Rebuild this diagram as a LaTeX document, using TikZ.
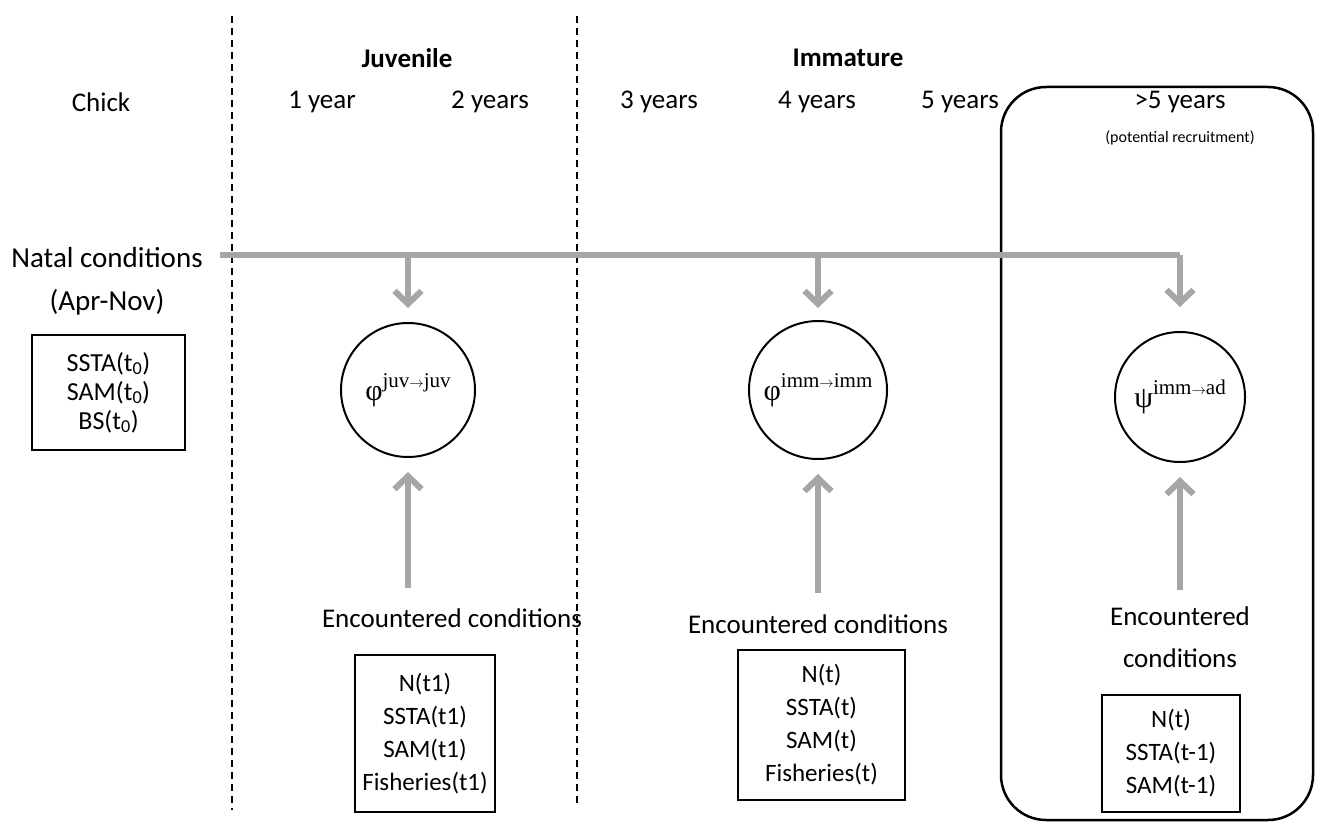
\documentclass[tikz,border=0pt]{standalone}
\usepackage[no-math]{fontspec}
\setmainfont{Carlito}
\newfontfamily\greekserif{Liberation Serif}
\usetikzlibrary{arrows.meta}
\definecolor{arrowgray}{HTML}{A6A6A6}
\newcommand{\stagelbl}[3]{{\greekserif\fontsize{30}{32}\selectfont #1}\raisebox{13pt}{\greekserif\fontsize{21}{22}\selectfont #2${\scriptstyle\rightarrow}$#3}}
\begin{document}
\begin{tikzpicture}[x=1pt,y=-1pt,
  every node/.style={font=\fontsize{27}{32}\selectfont, inner sep=0pt},
  title/.style={font=\fontsize{27}{32}\selectfont\bfseries},
  divider/.style={line width=1.5pt, dash pattern=on 7pt off 5pt},
  grayline/.style={draw=arrowgray, line width=6pt},
  grayarrow/.style={grayline, -{Straight Barb[length=13pt, width=27pt, line width=6pt]}},
  stage/.style={draw, circle, line width=2pt, minimum size=134pt},
  databox/.style={draw, line width=1.3pt, align=center}
]
\useasboundingbox (0,0) rectangle (1324,824);

% dividers
\coordinate (d1top) at (232,16);
\coordinate (d1bot) at (232,810);
\coordinate (d2top) at (577,16);
\coordinate (d2bot) at (577,805);
\draw[divider] (d1top) -- (d1bot);
\draw[divider] (d2top) -- (d2bot);

% adult frame
\node[draw, line width=2.5pt, rounded corners=45pt, minimum width=312pt, minimum height=733pt] (adultframe) at (1157,453.5) {};

% titles
\node[title] (juv) at (407,58) {Juvenile};
\node[title] (imm) at (848,58) {Immature};

% ages
\node (chick) at (101,102) {Chick};
\node (y1) at (322,102) {1 year};
\node (y2) at (490,102) {2 years};
\node (y3) at (659,102) {3 years};
\node (y4) at (817,102) {4 years};
\node (y5) at (960,102) {5 years};
\node (y6) at (1180,102) {>5 years};
\node[font=\fontsize{16}{18}\selectfont] (recruit) at (1180,138) {(potential recruitment)};

% natal
\node[font=\fontsize{29}{34}\selectfont] (natal) at (107,258) {Natal conditions};
\node[font=\fontsize{29}{34}\selectfont] (aprnov) at (107,302) {(Apr-Nov)};
\node[databox, minimum width=153pt, minimum height=115pt, font=\fontsize{26}{29}\selectfont] (natalbox) at (108.5,392.5) {SSTA(t\textsubscript{0})\\SAM(t\textsubscript{0})\\BS(t\textsubscript{0})};

% circles
\node[stage] (c1) at (408,390) {\stagelbl{φ}{juv}{juv}};
\node[stage, minimum size=138pt] (c2) at (818,390) {\stagelbl{φ}{imm}{imm}};
\node[stage, minimum size=130pt] (c3) at (1180,397) {\stagelbl{ψ}{imm}{ad}};

% natal line and arrows
\coordinate (ns) at (220,255);
\coordinate (b1) at (408,255);
\coordinate (b2) at (818,255);
\coordinate (b3) at (1180,255);
\draw[grayline] (ns) -- (b3);
\draw[grayarrow] (b1) -- ([yshift=14pt]c1.north);
\draw[grayarrow] (b2) -- ([yshift=12pt]c2.north);
\draw[grayarrow] (b3) -- ([yshift=24pt]c3.north -| b3);

% encountered
\node (enc1) at (452,618) {Encountered conditions};
\node (enc2) at (818,624) {Encountered conditions};
\node (enc3a) at (1180,616) {Encountered};
\node (enc3b) at (1180,658) {conditions};

\coordinate (u1) at (408,588);
\coordinate (u2) at (818,593);
\coordinate (u3) at (1180,590);
\draw[grayarrow] (u1) -- ([yshift=-14pt]c1.south -| u1);
\draw[grayarrow] (u2) -- ([yshift=-14pt]c2.south -| u2);
\draw[grayarrow] (u3) -- ([yshift=-14pt]c3.south -| u3);

% boxes
\node[databox, minimum width=140pt, minimum height=157pt, font=\fontsize{25}{33}\selectfont] (box1) at (425,733.5) {N(t1)\\SSTA(t1)\\SAM(t1)\\Fisheries(t1)};
\node[databox, minimum width=167pt, minimum height=150pt, font=\fontsize{25}{33}\selectfont] (box2) at (821.5,725) {N(t)\\SSTA(t)\\SAM(t)\\Fisheries(t)};
\node[databox, minimum width=138pt, minimum height=117pt, font=\fontsize{25}{33}\selectfont] (box3) at (1171,753.5) {N(t)\\SSTA(t-1)\\SAM(t-1)};
\end{tikzpicture}
\end{document}
